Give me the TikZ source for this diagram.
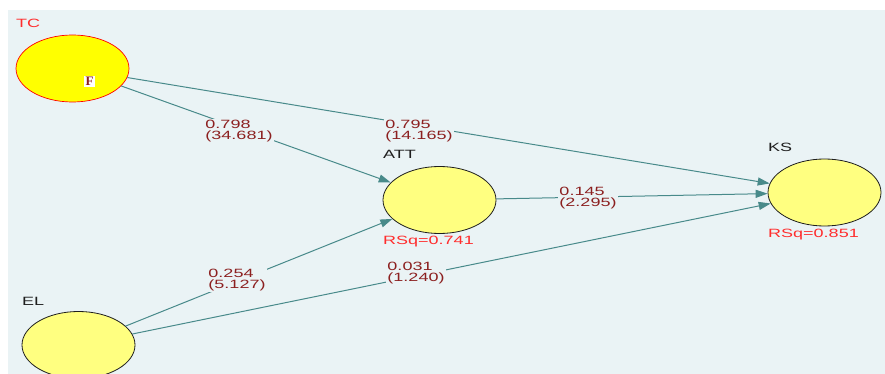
\documentclass[tikz,border=0pt]{standalone}
\usepackage{fontspec}
\setmainfont{Liberation Sans}
\newfontfamily\lblfont[FakeStretch=1.5]{Liberation Sans}
\newfontfamily\ffont{Liberation Serif}
\usetikzlibrary{shapes.geometric,arrows.meta}
\definecolor{bgc}{RGB}{234,243,245}
\definecolor{conncol}{RGB}{72,138,138}
\definecolor{labred}{RGB}{140,32,32}
\definecolor{rsqred}{RGB}{255,45,45}
\definecolor{lvyellow}{RGB}{255,255,128}
\definecolor{tcyellow}{RGB}{255,255,0}
\definecolor{nameblk}{RGB}{30,30,30}
\tikzset{
  lat/.style={ellipse, minimum width=113pt, minimum height=67pt, inner sep=0pt,
    draw=nameblk, fill=lvyellow, line width=0.8pt},
  conn/.style={draw=conncol, line width=1pt, -{Triangle[length=12pt,width=8pt]}},
  elab/.style={font=\lblfont\fontsize{12}{11.5}\selectfont, text=labred, fill=bgc,
    inner sep=1pt, align=left},
  vname/.style={font=\lblfont\fontsize{12}{11.5}\selectfont, text=nameblk, anchor=base west, inner sep=0pt},
  rsq/.style={font=\lblfont\fontsize{12}{11.5}\selectfont, text=rsqred, anchor=base west, inner sep=0pt}
}
\begin{document}
\begin{tikzpicture}[x=1pt,y=-1pt]
\useasboundingbox (0,0) rectangle (885,374);
\clip (0,0) rectangle (885,374);
\fill[white] (0,0) rectangle (885,374);
\fill[bgc] (8,10) rectangle (885,374);
% latent variables
\node[lat, fill=tcyellow, draw=red, line width=0.7pt] (TC) at (72.5,68.5) {};
\node[lat] (ATT) at (439.5,200) {};
\node[lat] (KS) at (824.5,192.5) {};
\node[lat] (EL) at (78.5,345) {};
% connectors
\draw[conn] (TC) -- (ATT);
\draw[conn] (TC) -- (KS);
\draw[conn] (ATT) -- (KS);
\draw[conn] (EL) -- (ATT);
\draw[conn] (EL) -- (KS);
% path labels
\node[elab] (l1) at (239,131) {0.798\\(34.681)};
\node[elab] (l2) at (419,131) {0.795\\(14.165)};
\node[elab] (l3) at (588,198) {0.145\\(2.295)};
\node[elab] (l4) at (237,280) {0.254\\(5.127)};
\node[elab] (l5) at (416,273) {0.031\\(1.240)};
% names
\node[vname, text=rsqred] (nTC) at (16,28) {TC};
\node[vname] (nATT) at (383,159) {ATT};
\node[vname] (nKS) at (768,152) {KS};
\node[vname] (nEL) at (22,305) {EL};
\node[rsq] (rATT) at (383,244) {RSq=0.741};
\node[rsq] (rKS) at (768,237) {RSq=0.851};
% F marker
\node[fill=white, inner sep=1.2pt, font=\ffont\bfseries\fontsize{13}{13}\selectfont, text=labred] (F) at (89.5,81.5) {F};
\end{tikzpicture}
\end{document}
